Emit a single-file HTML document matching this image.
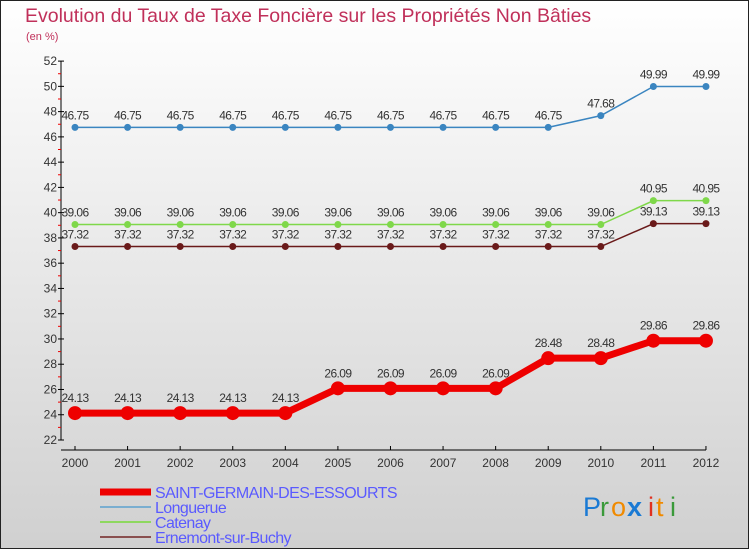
<!DOCTYPE html>
<html><head><meta charset="utf-8"><style>
body{margin:0}
svg{display:block;font-family:"Liberation Sans",sans-serif}
</style></head><body>
<svg id="c" width="750" height="550" xmlns="http://www.w3.org/2000/svg">
<defs><linearGradient id="bg" x1="0" y1="0" x2="0" y2="1"><stop offset="0" stop-color="#ffffff"/><stop offset="1" stop-color="#d0d0d0"/></linearGradient></defs>
<rect x="0.5" y="0.5" width="748" height="548" fill="url(#bg)" stroke="#222"/>
<text x="25" y="22" font-size="19.5" fill="#c0305a">Evolution du Taux de Taxe Foncière sur les Propriétés Non Bâties</text>
<text x="26" y="40" font-size="11" fill="#c0305a">(en %)</text>
<g id="axes"></g><g id="series"></g><g id="legend"></g>
<g font-size="27" font-family="Liberation Sans,sans-serif">
<text x="583" y="516" fill="#1a7ad4">P</text><text x="600" y="516" fill="#3a9a3a">r</text><text x="611" y="516" fill="#f08a00">o</text><text x="627" y="516" fill="#1a7ad4" font-weight="bold">x</text><text x="648" y="516" fill="#e03020">i</text><text x="656" y="516" fill="#f08a00">t</text><text x="670" y="516" fill="#3a9a3a">i</text>
</g>
</svg>
<script>
const years=["2000","2001","2002","2003","2004","2005","2006","2007","2008","2009","2010","2011","2012"];
const saint=[24.13,24.13,24.13,24.13,24.13,26.09,26.09,26.09,26.09,28.48,28.48,29.86,29.86];
const longuerue=[46.75,46.75,46.75,46.75,46.75,46.75,46.75,46.75,46.75,46.75,47.68,49.99,49.99];
const catenay=[39.06,39.06,39.06,39.06,39.06,39.06,39.06,39.06,39.06,39.06,39.06,40.95,40.95];
const ernemont=[37.32,37.32,37.32,37.32,37.32,37.32,37.32,37.32,37.32,37.32,37.32,39.13,39.13];
const yTicks=[22,24,26,28,30,32,34,36,38,40,42,44,46,48,50,52];
const seriesNames=["SAINT-GERMAIN-DES-ESSOURTS","Longuerue","Catenay","Ernemont-sur-Buchy"];
const NS="http://www.w3.org/2000/svg";
const x=i=>75+i*52.58;
const y=v=>440-(v-22)*12.63;
function mk(p,t,a){const e=document.createElementNS(NS,t);for(const k in a)e.setAttribute(k,a[k]);p.appendChild(e);return e;}
const ax=document.getElementById('axes');
let l=mk(ax,'line',{x1:61,y1:y(52),x2:61,y2:440,stroke:'#000'});


l=mk(ax,'line',{x1:61,y1:450,x2:706,y2:450,stroke:'#000'});


yTicks.forEach(v=>{
  mk(ax,'line',{x1:58,y1:y(v),x2:64,y2:y(v),stroke:'#000'});
  if(v<52) mk(ax,'line',{x1:58,y1:y(v+1),x2:61,y2:y(v+1),stroke:'#e00'});
  const t=mk(ax,'text',{x:57,y:y(v)+4,'text-anchor':'end','font-size':12,fill:'#333'});
  t.textContent=v;
  
  
});
years.forEach((yr,i)=>{
  mk(ax,'line',{x1:x(i),y1:446,x2:x(i),y2:450,stroke:'#000'});
  const t=mk(ax,'text',{x:x(i),y:467,'text-anchor':'middle','font-size':12,fill:'#333'});
  t.textContent=yr;
  
  
});
const sg=document.getElementById('series');
function draw(vals,color,w,r,name,labelOff){
  const g=mk(sg,'g',{});
  
  
  mk(g,'polyline',{points:vals.map((v,i)=>x(i)+','+y(v)).join(' '),fill:'none',stroke:color,'stroke-width':w});
  vals.forEach((v,i)=>{
    const c=mk(g,'circle',{cx:x(i),cy:y(v),r:r,fill:color});
    
    
    const t=mk(g,'text',{x:x(i),y:y(v)+labelOff,'text-anchor':'middle','font-size':12,fill:'#333','letter-spacing':'-0.6'});
    t.textContent=v;
    
    
  });
}
draw(longuerue,'#3a85c0',1.5,3.5,'series-longuerue',-8);
draw(catenay,'#7fd84a',1.5,3.5,'series-catenay',-8);
draw(ernemont,'#6a1a1a',1.5,3.5,'series-ernemont',-8);
draw(saint,'#ee0000',7,7,'series-saint-germain',-11);
const lg=document.getElementById('legend');
const lc=['#ee0000','#7aaed0','#8ed860','#8a5050'],lw=[7,2,2,2];
seriesNames.forEach((n,i)=>{
  const g=mk(lg,'g',{});
  
  
  const yy=492+i*15;
  mk(g,'line',{x1:100,y1:yy,x2:151,y2:yy,stroke:lc[i],'stroke-width':lw[i]});
  const t=mk(g,'text',{x:155,y:yy+6,'font-size':16,fill:'#5a5aff','letter-spacing':'-0.6'});
  t.textContent=n;
});
</script>
</body></html>
